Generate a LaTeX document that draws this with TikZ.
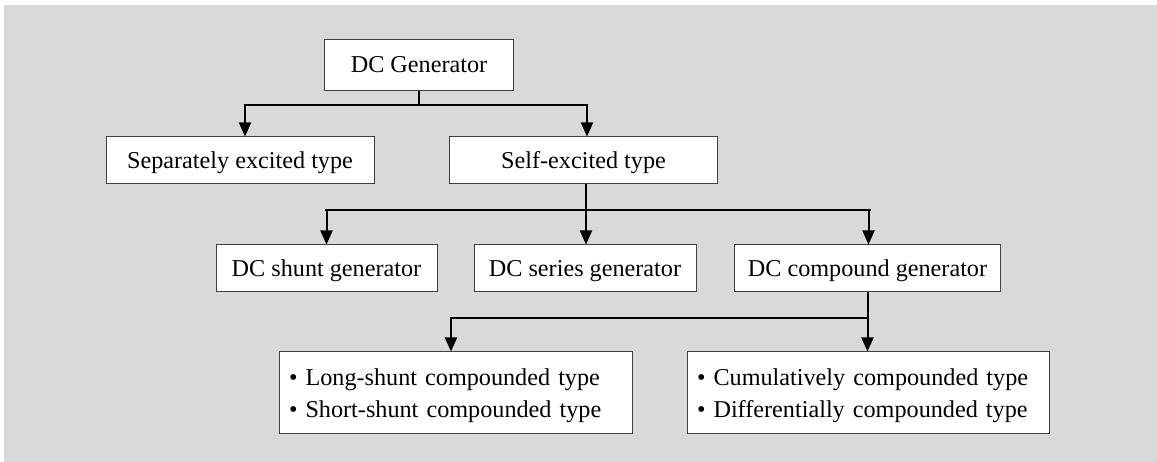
\documentclass[tikz,border=0pt]{standalone}
\usepackage{fontspec}
\setmainfont{Liberation Serif}
\usetikzlibrary{arrows.meta}
\definecolor{bggray}{HTML}{D9D9D9}
\definecolor{boxline}{HTML}{404040}
\tikzset{
  box/.style={draw=boxline, line width=1pt, fill=white, inner sep=0pt,
    font=\fontsize{24.2}{32}\selectfont, text=black},
  sbox/.style={box, minimum height=47pt, text height=19pt, text depth=3pt},
  lbox/.style={box, minimum height=81pt, inner xsep=10pt, align=left, text height=22.5pt},
  conn/.style={line width=2pt, black},
  bar/.style={line width=2.6pt, black, line cap=rect},
  arr/.style={conn, -{Triangle[length=14pt,width=12pt]}}
}
\begin{document}
\begin{tikzpicture}[x=1pt,y=-1pt]
\useasboundingbox (0,0) rectangle (1157,462);
\fill[white] (0,0) rectangle (1157,462);
\fill[bggray] (4,5) rectangle (1157,462);

\node[box, minimum width=189pt, minimum height=51pt, text height=19pt, text depth=3pt] (gen) at (419,65) {DC Generator};
\node[sbox, minimum width=268pt] (sep) at (240,160.5) {Separately excited type};
\node[sbox, minimum width=268pt] (self) at (583.5,160.5) {Self-excited type};
\node[sbox, minimum width=221pt] (shunt) at (326.5,268.5) {DC shunt generator};
\node[sbox, minimum width=222pt] (series) at (585,268.5) {DC series generator};
\node[sbox, minimum width=266pt] (comp) at (867.5,268.5) {DC compound generator};
\node[lbox, text width=333pt] (lst1) at (455.5,392.5) {\textbullet\ Long-shunt compounded type\\\textbullet\ Short-shunt compounded type};
\node[lbox, text width=342pt] (lst2) at (868,392.5) {\textbullet\ Cumulatively compounded type\\\textbullet\ Differentially compounded type};

\coordinate (h1) at (0,105);
\coordinate (h2) at (0,210);
\coordinate (h3) at (0,318);

% level 1
\draw[conn] (gen.south) -- (gen.south |- h1);
\draw[conn, line cap=rect] ([xshift=5pt]sep.north |- h1) -- ([xshift=3.5pt]self.north |- h1);
\draw[arr] ([xshift=5pt]sep.north |- h1) -- ([xshift=5pt]sep.north);
\draw[arr] ([xshift=3.5pt]self.north |- h1) -- ([xshift=3.5pt]self.north);

% level 2
\draw[conn] ([xshift=2pt]self.south) -- ([xshift=2pt]self.south |- h2);
\draw[bar] (shunt.north |- h2) -- ([xshift=2pt]comp.north |- h2);
\draw[arr] (shunt.north |- h2) -- (shunt.north);
\draw[arr] ([xshift=1pt]series.north |- h2) -- ([xshift=1pt]series.north);
\draw[arr] ([xshift=1pt]comp.north |- h2) -- ([xshift=1pt]comp.north);

% level 3
\draw[conn] (comp.south) -- (comp.south |- h3);
\draw[bar] ([xshift=-4.5pt]lst1.north |- h3) -- (comp.south |- h3);
\draw[arr] ([xshift=-4.5pt]lst1.north |- h3) -- ([xshift=-4.5pt]lst1.north);
\draw[arr] (comp.south |- h3) -- (lst2.north -| comp.south);
\end{tikzpicture}
\end{document}
